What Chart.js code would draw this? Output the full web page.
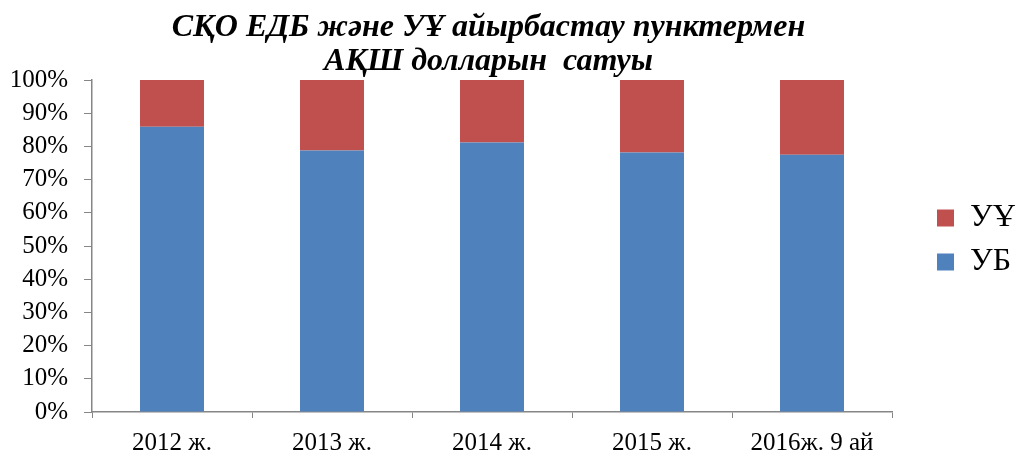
<!DOCTYPE html>
<html>
<head>
<meta charset="utf-8">
<script src="https://cdn.jsdelivr.net/npm/chart.js@4"></script>
<style>
html,body{margin:0;padding:0;background:#fff;}
#wrap{width:1019px;height:454px;position:relative;}
</style>
</head>
<body>
<div id="wrap"><canvas id="c" width="1019" height="454"></canvas></div>
<script>
const categories = ["2012 ж.", "2013 ж.", "2014 ж.", "2015 ж.", "2016ж. 9 ай"];
const ubValues = [85.9, 78.8, 81.2, 78.2, 77.5];
const uuValues = [14.1, 21.2, 18.8, 21.8, 22.5];
const yTicks = [0, 10, 20, 30, 40, 50, 60, 70, 80, 90, 100];
const titleLines = ["СҚО ЕДБ және УҰ айырбастау пунктермен", "АҚШ долларын  сатуы"];

const serif = "'Liberation Serif', 'Times New Roman', serif";
const axisColor = '#868686';

const boxTweakPlugin = {
  id: 'boxTweak',
  beforeInit(chart) {
    const lg = chart.legend;
    if (!lg) return;
    const orig = lg.fit;
    lg.fit = function () { orig.call(this); this.width = 127; };
  },
  afterLayout(chart) {
    const lg = chart.legend;
    if (lg) { lg.left += 33; lg.right += 33; lg.top += 13; lg.bottom += 13; }
    const tt = chart.titleBlock;
    if (tt) { tt.left -= 21; tt.right -= 21; }
  }
};

new Chart(document.getElementById('c'), {
  type: 'bar',
  data: {
    labels: categories,
    datasets: [
      { label: 'УБ', data: ubValues, backgroundColor: '#4F81BD', barPercentage: 0.4, categoryPercentage: 1.0 },
      { label: 'УҰ', data: uuValues, backgroundColor: '#C0504D', barPercentage: 0.4, categoryPercentage: 1.0 }
    ]
  },
  plugins: [boxTweakPlugin],
  options: {
    responsive: false,
    animation: false,
    devicePixelRatio: 1,
    layout: { padding: { left: 0, right: 0, top: 0, bottom: 0 } },
    plugins: {
      title: {
        display: true,
        text: titleLines,
        color: '#000',
        font: { family: serif, size: 32, weight: 'bold', style: 'italic', lineHeight: 1.0625 },
        padding: { top: 11, bottom: 1 }
      },
      legend: {
        position: 'right',
        reverse: true,
        labels: {
          color: '#000',
          font: { family: serif, size: 32 },
          boxWidth: 17,
          boxHeight: 17,
          padding: 12
        }
      },
      tooltip: { enabled: false }
    },
    scales: {
      x: {
        stacked: true,
        afterFit: (axis) => { axis.height = 42; },
        grid: { display: true, drawOnChartArea: false, drawTicks: true, tickLength: 6, color: axisColor, offset: true },
        border: { display: true, color: axisColor, width: 1.5 },
        ticks: { color: '#000', font: { family: serif, size: 25 }, padding: 10, maxRotation: 0 }
      },
      y: {
        stacked: true,
        min: 0,
        max: 100,
        afterFit: (axis) => { axis.width = 92; },
        afterBuildTicks: (axis) => { axis.ticks = yTicks.map(v => ({ value: v })); },
        grid: { display: true, drawOnChartArea: false, drawTicks: true, tickLength: 8, color: axisColor },
        border: { display: true, color: axisColor, width: 1.5 },
        ticks: { color: '#000', font: { family: serif, size: 25 }, padding: 16, callback: (v) => v + '%' }
      }
    }
  }
});
</script>
</body>
</html>
